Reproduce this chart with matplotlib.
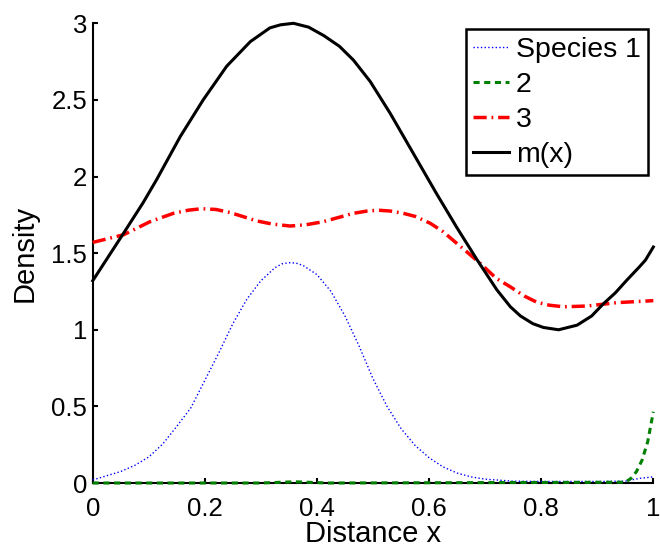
import numpy as np
import matplotlib
matplotlib.use("Agg")
import matplotlib.pyplot as plt

# values
x_s1 = [0, 0.05, 0.075, 0.1, 0.125, 0.15, 0.175, 0.2, 0.225, 0.25, 0.275, 0.3,
        0.325, 0.3375, 0.35, 0.3625, 0.375, 0.4, 0.425, 0.45, 0.475, 0.5, 0.525,
        0.55, 0.575, 0.6, 0.625, 0.65, 0.675, 0.7, 0.75, 0.8, 0.9, 0.95, 0.975, 1.0]
y_s1 = [0.02, 0.075, 0.115, 0.17, 0.255, 0.37, 0.49, 0.67, 0.85, 1.04, 1.2, 1.32,
        1.405, 1.43, 1.438, 1.435, 1.42, 1.36, 1.25, 1.09, 0.895, 0.68, 0.5,
        0.355, 0.245, 0.165, 0.105, 0.065, 0.04, 0.025, 0.012, 0.01, 0.01,
        0.012, 0.03, 0.04]

x_s2 = [0, 0.3, 0.36, 0.42, 0.95, 0.96, 0.97, 0.98, 0.99, 1.0]
y_s2 = [0, 0, 0.008, 0, 0.005, 0.03, 0.075, 0.15, 0.27, 0.465]

x_s3 = [0, 0.055, 0.102, 0.144, 0.17, 0.194, 0.22, 0.245, 0.293, 0.32, 0.352,
        0.38, 0.411, 0.465, 0.49, 0.51, 0.53, 0.554, 0.575, 0.602, 0.625, 0.649,
        0.67, 0.691, 0.72, 0.745, 0.77, 0.792, 0.815, 0.84, 0.882, 0.935, 1.0]
y_s3 = [1.57, 1.62, 1.705, 1.76, 1.78, 1.79, 1.785, 1.765, 1.71, 1.69, 1.677,
        1.685, 1.705, 1.76, 1.775, 1.78, 1.775, 1.76, 1.74, 1.695, 1.64, 1.565,
        1.5, 1.434, 1.335, 1.28, 1.22, 1.18, 1.16, 1.15, 1.155, 1.177, 1.19]

x_m = [0, 0.055, 0.09, 0.114, 0.156, 0.197, 0.239, 0.281, 0.316, 0.335, 0.358,
       0.385, 0.412, 0.44, 0.465, 0.495, 0.531, 0.572, 0.613, 0.649, 0.685,
       0.721, 0.745, 0.763, 0.785, 0.804, 0.831, 0.864, 0.89, 0.911, 0.932,
       0.953, 0.975, 0.986, 1.0]
y_m = [1.32, 1.63, 1.83, 1.98, 2.26, 2.5, 2.72, 2.88, 2.97, 2.99, 3.0, 2.975,
       2.92, 2.85, 2.76, 2.62, 2.41, 2.15, 1.89, 1.67, 1.46, 1.26, 1.15, 1.09,
       1.04, 1.015, 1.0, 1.03, 1.09, 1.17, 1.24, 1.325, 1.41, 1.455, 1.54]

labels = ["Species 1", "2", "3", "m(x)"]
xticks = [0, 0.2, 0.4, 0.6, 0.8, 1]
xticklabels = ["0", "0.2", "0.4", "0.6", "0.8", "1"]
yticks = [0, 0.5, 1, 1.5, 2, 2.5, 3]
yticklabels = ["0", "0.5", "1", "1.5", "2", "2.5", "3"]

plt.rcParams["font.family"] = ["Liberation Sans", "DejaVu Sans"]

fig = plt.figure(figsize=(6.6, 5.48), dpi=100)
ax = fig.add_axes([0.1405, 0.1186, 0.8494, 0.8389])

ax.plot(x_s1, y_s1, color="#0000ff", linestyle=":", linewidth=1.0,
        label=labels[0], zorder=3, clip_on=False)
ax.plot(x_s2, y_s2, color="#008000", linestyle=(0, (2, 1.5)), linewidth=2.2,
        label=labels[1], zorder=3, clip_on=False)
ax.plot(x_s3, y_s3, color="#ff0000", linestyle=(0, (3.8, 1.4, 0.5, 1.4)),
        linewidth=2.5, label=labels[2], zorder=3, clip_on=False)
ax.plot(x_m, y_m, color="black", linestyle="-", linewidth=2.2,
        label=labels[3], zorder=3, clip_on=False)

ax.set_xlim(0, 1)
ax.set_ylim(0, 3)
ax.set_xticks(xticks)
ax.set_xticklabels(xticklabels)
ax.set_yticks(yticks)
ax.set_yticklabels(yticklabels)

for side in ["top", "right"]:
    ax.spines[side].set_visible(False)
for side in ["left", "bottom"]:
    ax.spines[side].set_linewidth(1.5)

ax.tick_params(axis="both", direction="in", length=3.5, width=1.5,
               labelsize=18.5)
ax.tick_params(axis="x", pad=10)
ax.tick_params(axis="y", pad=4)

ax.set_xlabel("Distance x", fontsize=21, labelpad=-1)
ax.set_ylabel("Density", fontsize=21, labelpad=9)

leg = ax.legend(loc="upper right", bbox_to_anchor=(648.3 / 660, 1 - 29.3 / 548),
                bbox_transform=fig.transFigure, borderaxespad=0,
                fontsize=20.5, handlelength=1.25, handletextpad=0.25,
                labelspacing=0.32, borderpad=0.26, fancybox=False,
                framealpha=1)
leg.get_frame().set_edgecolor("black")
leg.get_frame().set_linewidth(1.8)

fig.savefig("out.png", dpi=100)
